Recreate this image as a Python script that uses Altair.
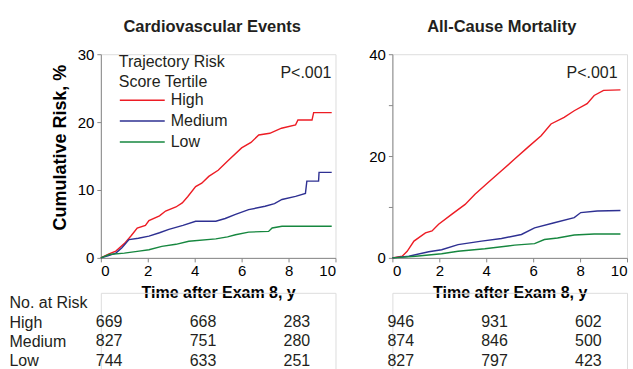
import altair as alt
import pandas as pd

FONT = "Liberation Sans"
INK = "#231F20"
groups = ["High", "Medium", "Low"]
colors = ["#ED1C24", "#2E3092", "#16873F"]

# ---- Cardiovascular events (cumulative risk, %) ----
cv_high_t = [0, 0.35, 0.64, 1.0, 1.3, 1.55, 1.9, 2.05, 2.5, 2.76, 3.2, 3.47, 3.7, 4.04, 4.3, 4.6, 5.0, 5.45, 6.0, 6.4, 6.73, 7.2, 7.7, 8.3, 8.4, 9.0, 9.07, 9.84]
cv_high_r = [0, 0.6, 1.0, 2.1, 3.3, 4.4, 4.8, 5.5, 6.2, 6.9, 7.5, 8.1, 9.0, 10.5, 11.0, 12.0, 12.9, 14.4, 16.2, 17.0, 18.1, 18.35, 19.1, 19.6, 20.3, 20.3, 21.4, 21.4]
cv_med_t = [0, 0.3, 0.64, 0.9, 1.2, 1.6, 2.05, 2.5, 2.9, 3.5, 4.04, 4.9, 5.3, 5.74, 6.3, 7.0, 7.4, 7.72, 8.3, 8.72, 8.78, 9.28, 9.3, 9.84]
cv_med_r = [0, 0.3, 0.7, 1.5, 2.7, 2.9, 3.2, 3.7, 4.2, 4.8, 5.4, 5.4, 5.8, 6.4, 7.1, 7.6, 8.0, 8.6, 9.05, 9.5, 11.3, 11.3, 12.6, 12.6]
cv_low_t = [0, 0.35, 1.0, 1.63, 2.05, 2.6, 3.2, 3.75, 4.9, 5.4, 5.74, 6.3, 7.15, 7.3, 7.72, 9.84]
cv_low_r = [0, 0.5, 0.7, 1.0, 1.2, 1.7, 2.0, 2.45, 2.8, 3.1, 3.4, 3.8, 3.9, 4.4, 4.65, 4.65]

# ---- All-cause mortality (cumulative risk, %) ----
mo_high_t = [0, 0.42, 0.63, 0.92, 1.41, 1.69, 1.97, 2.54, 3.1, 3.52, 4.08, 4.65, 5.21, 5.77, 6.34, 6.76, 7.32, 7.75, 8.3, 8.6, 9.0, 9.72]
mo_high_r = [0, 0.33, 1.3, 3.3, 4.9, 5.3, 6.6, 8.6, 10.5, 12.5, 14.8, 17.1, 19.4, 21.7, 24.0, 26.3, 27.6, 28.9, 30.3, 31.9, 32.9, 33.0]
mo_med_t = [0, 0.7, 1.55, 2.1, 2.8, 3.8, 4.65, 5.5, 6.06, 6.9, 7.75, 8.03, 8.73, 9.72]
mo_med_r = [0, 0.33, 1.2, 1.6, 2.6, 3.3, 3.8, 4.6, 5.9, 6.9, 7.9, 8.9, 9.2, 9.3]
mo_low_t = [0, 0.99, 2.1, 2.8, 3.94, 5.21, 6.06, 6.48, 7.04, 7.75, 8.6, 9.72]
mo_low_r = [0, 0.33, 0.8, 1.3, 1.8, 2.5, 2.8, 3.6, 3.9, 4.5, 4.7, 4.7]

# ---- Number at risk ----
risk_times = [0, 4, 8]
cv_at_risk = {"High": [669, 668, 283], "Medium": [827, 751, 280], "Low": [744, 633, 251]}
mo_at_risk = {"High": [946, 931, 602], "Medium": [874, 846, 500], "Low": [827, 797, 423]}
table_rows = ["No. at Risk"] + groups


def curves(series):
    rows = []
    for g, (ts, rs) in zip(groups, series):
        for t, r in zip(ts, rs):
            rows.append({"group": g, "t": t, "risk": r})
    return pd.DataFrame(rows)


def table_df(at_risk):
    rows = []
    for g in groups:
        for t, n in zip(risk_times, at_risk[g]):
            rows.append({"group": g, "t": t, "n": str(n)})
    return pd.DataFrame(rows)


W, H = 235, 204


def km_chart(df, title, title_dx, ymax, yticks, ytitle, label_expr, p_x, p_y, legend):
    color = alt.Color(
        "group:N",
        scale=alt.Scale(domain=groups, range=colors),
        legend=legend,
    )
    yaxis_kwargs = dict(values=yticks, labelExpr=label_expr, tickSize=4, labelPadding=3,
                        labelFontSize=15, grid=False)
    if ytitle:
        yaxis_kwargs.update(title=ytitle, titleFontSize=18, titleFontWeight="bold",
                            titlePadding=8, titleY=93)
    else:
        yaxis_kwargs.update(title=None)
    lines = alt.Chart(df).mark_line(strokeWidth=1.4).encode(
        x=alt.X("t:Q", scale=alt.Scale(domain=[0, 10], nice=False),
                axis=alt.Axis(values=[0, 2, 4, 6, 8, 10], title="Time after Exam 8, y",
                              titleFontSize=16, titleFontWeight="bold", titlePadding=6,
                              labelFontSize=15, tickSize=4, labelPadding=2, grid=False)),
        y=alt.Y("risk:Q", scale=alt.Scale(domain=[0, ymax], nice=False),
                axis=alt.Axis(**yaxis_kwargs)),
        color=color,
    )
    ptext = alt.Chart(pd.DataFrame({"k": [0]})).mark_text(
        align="right", baseline="middle", fontSize=16, font=FONT, color=INK
    ).encode(x=alt.datum(p_x), y=alt.datum(p_y), text=alt.value("P<.001"))
    return alt.layer(lines, ptext).properties(
        width=W, height=H,
        title=alt.TitleParams(title, fontSize=16.5, font=FONT, fontWeight="bold", color=INK,
                              anchor="middle", dx=title_dx, offset=12),
    )


def table_chart(at_risk, show_labels):
    if show_labels:
        yaxis = alt.Axis(title=None, domain=False, ticks=False, tickSize=0, labelAlign="left",
                         labelPadding=92, labelFontSize=16, labelFont=FONT, labelColor=INK,
                         labelOverlap=False)
    else:
        yaxis = None
    return alt.Chart(table_df(at_risk)).mark_text(
        align="left", baseline="middle", dx=-5, fontSize=16, font=FONT, color=INK
    ).encode(
        x=alt.X("t:Q", scale=alt.Scale(domain=[0, 10], nice=False), axis=None),
        y=alt.Y("group:N", scale=alt.Scale(type="point", domain=table_rows, padding=0.5),
                axis=yaxis),
        text="n:N",
    ).properties(width=W, height=78)


legend = alt.Legend(
    title=["Trajectory Risk", "Score Tertile"], orient="none", legendX=18, legendY=0,
    titleFontSize=16, titleFontWeight="normal", titleFont=FONT, titleColor=INK,
    titleLineHeight=20, titlePadding=0, labelFontSize=16, labelFont=FONT, labelColor=INK,
    symbolType="stroke", symbolSize=2025, symbolStrokeWidth=1.5, clipHeight=20,
    rowPadding=1, labelOffset=5, padding=0,
)

left_km = km_chart(curves([(cv_high_t, cv_high_r), (cv_med_t, cv_med_r), (cv_low_t, cv_low_r)]),
                   "Cardiovascular Events", -6, 30, [0, 10, 20, 30], "Cumulative Risk, %",
                   "datum.label", 9.83, 27.2, legend)
right_km = km_chart(curves([(mo_high_t, mo_high_r), (mo_med_t, mo_med_r), (mo_low_t, mo_low_r)]),
                    "All-Cause Mortality", -8, 40, [0, 10, 20, 30, 40], None,
                    "datum.value % 20 == 0 ? datum.label : ''", 9.6, 36.3, None)

left_col = alt.vconcat(left_km, table_chart(cv_at_risk, True), spacing=35, bounds="flush") \
    .resolve_scale(x="independent", y="independent", color="independent") \
    .resolve_legend(color="independent")
right_col = alt.vconcat(right_km, table_chart(mo_at_risk, False), spacing=35, bounds="flush") \
    .resolve_scale(x="independent", y="independent", color="independent") \
    .resolve_legend(color="independent")

chart = alt.hconcat(left_col, right_col, spacing=31).resolve_scale(
    x="independent", y="independent", color="independent"
).resolve_legend(color="independent").properties(
    padding={"left": 8, "top": 18, "right": 5, "bottom": 0}
).configure_view(stroke=None).configure_axis(
    domainColor="black", tickColor="black", labelColor=INK, titleColor=INK,
    labelFont=FONT, titleFont=FONT,
).configure(background="white")

chart.save("out.html", embed_options={"renderer": "svg", "actions": False})
